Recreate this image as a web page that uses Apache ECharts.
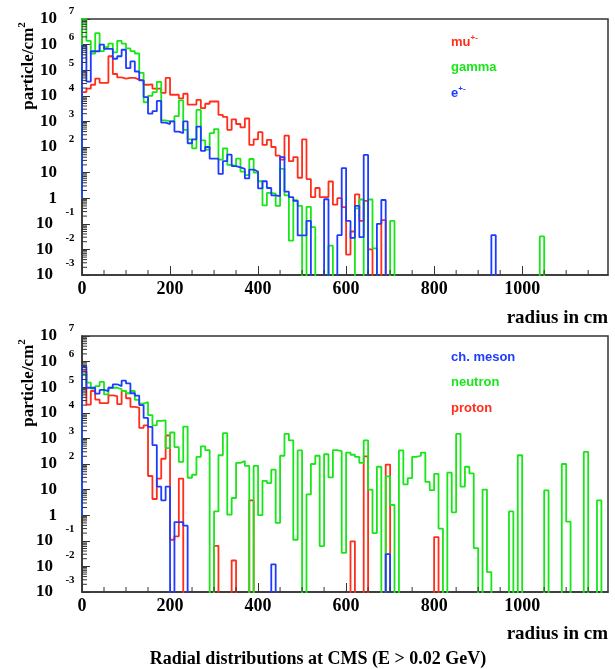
<!DOCTYPE html>
<html>
<head>
<meta charset="utf-8">
<script src="https://cdn.jsdelivr.net/npm/echarts@6/dist/echarts.min.js"></script>
<style>
  html, body { margin: 0; padding: 0; background: #ffffff; }
  #chart { width: 615px; height: 669px; }
</style>
</head>
<body>
<div id="chart"></div>
<script>
// Radial particle fluence at CMS, 10 cm radial bins, particle/cm^2 per bin.
const binWidth = 10;
const nBins = 120;
const radiusMax = 1195;

// Upper panel: muons, photons, electrons
const muTop = [
  1.4e4, 1.9e4, 2.7e4, 4.7e4, 3.2e4, 3.2e4, 3.5e5, 7.1e4, 5.2e4, 4.7e4,
  5.0e4, 5.0e4, 4.3e4, 4.0e4, 2.7e4, 2.8e4, 1.9e4, 1.9e4, 1.3e4, 5.0e4,
  1.1e4, 1.1e4, 7.9e3, 1.2e4, 4.5e3, 4.5e3, 6.9e3, 3.3e3, 4.9e3, 6.0e3,
  6.0e3, 1.8e3, 1.5e3, 4.7e2, 1.2e3, 7.9e2, 5.8e2, 1.3e3, 1.2e2, 2.0e2,
  3.8e2, 1.2e2, 1.9e2, 1.0e2, 46, 32, 2.8e2, 28, 40, 6.3,
  2.0e2, 5.6, 1.1, 2.5, 1.1, 1.1, 4.5, 0.56, 1.0, 0.45,
  0.0063, 0.05, 1.4, 0.13, 0.79, 0.01, 0, 0, 0.14
];
const gammaTop = [
  1.0e7, 1.4e6, 4.5e5, 2.8e6, 5.6e5, 7.9e5, 1.1e6, 5.0e5, 1.4e6, 1.1e6,
  7.1e5, 5.6e5, 4.5e5, 7.9e4, 5.6e3, 1.0e4, 1.4e4, 3.5e4, 1.1e3, 1.0e3,
  1.0e3, 1.6e3, 6.6e3, 4.7e2, 2.0e2, 89, 2.8e3, 1.8e2, 79, 3.5e2,
  5.0e2, 32, 89, 20, 18, 35, 11, 7.9, 34, 10,
  4.6, 0.52, 1.6, 1.5, 0.5, 14, 1.3, 0.022, 0.83, 0.5,
  0, 0.46, 0.074, 0, 0, 0, 0.014, 0, 0, 0,
  0, 0, 0.4, 0.89, 0, 0.89, 0.011, 0, 0, 0,
  0.13, 0, 0, 0, 0, 0, 0, 0, 0, 0,
  0, 0, 0, 0, 0, 0, 0, 0, 0, 0,
  0, 0, 0, 0, 0, 0, 0, 0, 0, 0,
  0, 0, 0, 0, 0.032
];
const eTop = [
  9.0e5, 3.6e4, 5.5e5, 5.5e5, 1.0e6, 6.8e5, 6.8e5, 2.8e5, 3.5e5, 6.3e5,
  1.2e5, 2.2e5, 8.9e4, 4.0e4, 8.9e3, 2.0e3, 2.5e3, 6.3e3, 8.9e2, 7.9e2,
  1.0e3, 4.0e2, 3.5e2, 1.0e3, 1.4e2, 2.0e2, 6.3e2, 71, 1.0e2, 35,
  35, 8.9, 28, 50, 18, 16, 14, 5.9, 13, 11,
  2.4, 4.6, 2.5, 1.3, 1.2, 40, 1.8, 1.1, 0.79, 0.035,
  0.035, 0.13, 0, 0, 0, 0.91, 0, 0, 0.036, 15,
  0.13, 0.028, 0.5, 0.03, 49, 0, 0, 0.1, 0.85, 0,
  0, 0, 0, 0, 0, 0, 0, 0, 0, 0,
  0, 0, 0, 0, 0, 0, 0, 0, 0, 0,
  0, 0, 0, 0.036
];

// Lower panel: charged mesons, neutrons, protons
const mesonBottom = [
  6.3e5, 9.5e4, 9.5e4, 5.6e4, 7.8e4, 7.1e4, 9.5e4, 1.3e5, 1.1e5, 1.8e5,
  1.4e5, 5.8e4, 4.7e4, 2.0e4, 6.3e3, 2.8e3, 5.5e2, 13, 3.8, 13,
  0, 0.54, 0.54, 0.39, 0, 0, 0, 0, 0, 0,
  0, 0, 0, 0, 0, 0, 0, 0, 0, 0,
  0, 0, 0, 0.012, 0, 0, 0, 0, 0, 0,
  0, 0, 0, 0, 0, 0, 0, 0, 0, 0,
  0, 0, 0, 0, 0, 0, 0, 0, 0, 0.03
];
const neutronBottom = [
  3.2e5, 1.5e5, 8.9e4, 1.1e5, 1.6e5, 5.2e4, 9.5e4, 9.5e4, 8.5e4, 7.1e4,
  5.8e4, 7.1e4, 3.2e4, 2.3e4, 2.6e4, 8.1e3, 3.2e3, 4.8e3, 5.1e3, 4.2e2,
  1.7e3, 4.6e2, 1.2e2, 2.9e3, 29, 38, 1.9e2, 4.9e2, 3.5e2, 0,
  1.4, 2.2e2, 1.6e3, 1.05, 4.7, 1.1e2, 1.3e2, 85, 0, 85,
  1.0, 22, 18, 60, 0.5, 2.1e2, 1.5e3, 8.3e2, 0.11, 3.4e2,
  0, 6.5, 1.0e2, 2.1e2, 0.062, 2.4e2, 30, 3.5e2, 3.2e2, 0.034,
  2.8e2, 2.3e2, 1.9e2, 1.1e2, 8.3e2, 10, 0.2, 78, 0, 33,
  2.5, 0, 3.4e2, 16, 28, 1.9e2, 2.1e2, 2.8e2, 20, 9.5,
  41, 0.3, 0, 46, 1.3, 1.5e3, 13, 78, 43, 0.052,
  0, 10, 0.006, 0, 0, 0, 0, 1.4, 0, 2.2e2,
  0, 0, 0, 0, 0, 9.3, 0, 0, 0, 1.0e2,
  0.56, 0, 0, 0, 3.0e2, 0, 0, 3.8, 0, 0
];
const protonBottom = [
  4.2e5, 2.1e4, 7.1e4, 3.3e4, 2.4e4, 2.4e4, 4.8e4, 4.5e4, 2.2e4, 7.1e4,
  3.7e4, 1.7e4, 1.6e4, 2.6e3, 3.2e3, 34, 4.3, 27, 1.6e2, 1.3e3,
  0.11, 0.15, 27, 0, 0, 0, 0, 0, 0, 0,
  0.063, 0, 0, 0, 0.017, 0, 0, 0, 3.8, 0,
  0, 0, 0, 0, 0, 0, 0, 0, 0, 0,
  0, 0, 0, 0, 0, 0, 0, 0, 0, 0,
  0, 0.095, 0, 0, 2.0e2, 0, 0, 0, 0, 95,
  0, 0, 0, 0, 0, 0, 0, 0, 0, 0,
  0.14
];

// Axis ranges (log y axis in decades)
const yMin = 1e-3;
const yMax = 1e7;
const xLabelStep = 200;

const RED = '#ff2d19';
const GREEN = '#19e619';
const BLUE = '#1e3cff';
const FRAME = '#333333';
const SERIF = "'Liberation Serif', 'Times New Roman', serif";
const SANS = "'Liberation Sans', Arial, sans-serif";

// Outline starts from 1 at r = 0; empty bins fall below the frame and are clipped.
const outlineBase = 1;
const emptyLevel = Math.pow(10, -3.3);

function histPoints(vals) {
  const pts = [[0, outlineBase]];
  for (let i = 0; i < nBins; i++) {
    const v = vals[i] || 0;
    pts.push([i * binWidth, v > 0 ? v : emptyLevel]);
  }
  const last = vals[nBins - 1] || 0;
  pts.push([nBins * binWidth, last > 0 ? last : emptyLevel]);
  return pts;
}

function histSeries(name, vals, color, gi, z) {
  return {
    name: name, type: 'line', xAxisIndex: gi, yAxisIndex: gi,
    step: 'end', symbol: 'none', showSymbol: false, clip: true,
    data: histPoints(vals), z: z, animation: false,
    lineStyle: { color: color, width: 1.8 }, itemStyle: { color: color }
  };
}

// Minor tick marks: log 2..9 per decade on y, every 50 cm on x
const minorTicks = [];
for (let k = -3; k < 7; k++) {
  for (let m = 2; m <= 9; m++) minorTicks.push([0, m * Math.pow(10, k), 0]);
}
for (let r = 50; r < radiusMax; r += 50) {
  if (r % xLabelStep !== 0) minorTicks.push([r, yMin, 1]);
}

function minorTickSeries(gi) {
  return {
    type: 'custom', xAxisIndex: gi, yAxisIndex: gi, silent: true, clip: false,
    animation: false, z: 5, data: minorTicks,
    renderItem: function (params, api) {
      const p = api.coord([api.value(0), api.value(1)]);
      const vertical = api.value(2) === 1;
      return {
        type: 'line',
        shape: vertical
          ? { x1: p[0], y1: p[1], x2: p[0], y2: p[1] - 5 }
          : { x1: p[0], y1: p[1], x2: p[0] + 5, y2: p[1] },
        style: { stroke: FRAME, lineWidth: 1 }
      };
    }
  };
}

function yLabel(v) {
  const e = Math.round(Math.log10(v));
  if (e === 0) return '{b|1}{s| }{p| }';
  if (e === 1) return '{b|10}{s| }{p| }';
  if (e > 1) return '{b|10}{s| }{p|' + e + '}';
  return '{bn|10}{sn| }{n|' + e + '}';
}

const yRich = {
  b: { fontFamily: SERIF, fontWeight: 'bold', fontSize: 17, color: '#000', lineHeight: 26 },
  bn: { fontFamily: SERIF, fontWeight: 'bold', fontSize: 17, color: '#000', lineHeight: 34 },
  s: { width: 9 },
  sn: { width: 10 },
  p: { fontFamily: SERIF, fontWeight: 'bold', fontSize: 11, color: '#000', width: 11,
       align: 'left', verticalAlign: 'top', lineHeight: 12 },
  n: { fontFamily: SERIF, fontWeight: 'bold', fontSize: 11, color: '#000', width: 14,
       align: 'left', verticalAlign: 'top', lineHeight: 12 }
};

function xAxisFor(gi) {
  return {
    type: 'value', gridIndex: gi, min: 0, max: radiusMax, interval: xLabelStep,
    axisLine: { show: true, lineStyle: { color: FRAME, width: 1.5 } },
    axisTick: { show: true, inside: true, length: 9, lineStyle: { color: FRAME, width: 1 } },
    splitLine: { show: false },
    axisLabel: {
      fontFamily: SERIF, fontWeight: 'bold', fontSize: 18, color: '#000', margin: 5,
      showMaxLabel: false, formatter: function (v) { return String(v); }
    }
  };
}

function yAxisFor(gi) {
  return {
    type: 'log', logBase: 10, gridIndex: gi, min: yMin, max: yMax, interval: 1,
    axisLine: { show: true, lineStyle: { color: FRAME, width: 1.5 } },
    axisTick: { show: true, inside: true, length: 8, lineStyle: { color: FRAME, width: 1 } },
    splitLine: { show: false },
    axisLabel: { margin: 5, formatter: yLabel, rich: yRich }
  };
}

const legendLabels = {
  'mu': '{r|mu}{rs|+-}',
  'gamma': '{g|gamma}',
  'e': '{bl|e}{bls|+-}',
  'ch. meson': '{bl|ch. meson}',
  'neutron': '{g|neutron}',
  'proton': '{r|proton}'
};
const legendRich = {
  r: { color: RED, fontFamily: SANS, fontWeight: 'bold', fontSize: 13, lineHeight: 16 },
  g: { color: GREEN, fontFamily: SANS, fontWeight: 'bold', fontSize: 13, lineHeight: 16 },
  bl: { color: BLUE, fontFamily: SANS, fontWeight: 'bold', fontSize: 13, lineHeight: 16 },
  rs: { color: RED, fontFamily: SANS, fontWeight: 'bold', fontSize: 8, verticalAlign: 'top', lineHeight: 9 },
  bls: { color: BLUE, fontFamily: SANS, fontWeight: 'bold', fontSize: 8, verticalAlign: 'top', lineHeight: 9 }
};

function legendFor(names, top) {
  return {
    data: names, orient: 'vertical', left: 446, top: top, padding: 0, icon: 'none',
    itemWidth: 0, itemHeight: 16, itemGap: 11, selectedMode: false,
    formatter: function (n) { return legendLabels[n]; },
    textStyle: { rich: legendRich }
  };
}

const titleRich = {
  a: { fontFamily: SERIF, fontWeight: 'bold', fontSize: 17, fill: '#000', lineHeight: 24 },
  s: { fontFamily: SERIF, fontWeight: 'bold', fontSize: 11, fill: '#000', verticalAlign: 'top', lineHeight: 12 }
};

const option = {
  backgroundColor: '#ffffff',
  animation: false,
  grid: [
    { left: 82, top: 19, width: 526, height: 256, show: true, borderColor: FRAME, borderWidth: 1.5 },
    { left: 82, top: 336, width: 526, height: 256, show: true, borderColor: FRAME, borderWidth: 1.5 }
  ],
  xAxis: [xAxisFor(0), xAxisFor(1)],
  yAxis: [yAxisFor(0), yAxisFor(1)],
  legend: [
    legendFor(['mu', 'gamma', 'e'], 34),
    legendFor(['ch. meson', 'neutron', 'proton'], 349)
  ],
  series: [
    histSeries('mu', muTop, RED, 0, 2),
    histSeries('gamma', gammaTop, GREEN, 0, 3),
    histSeries('e', eTop, BLUE, 0, 4),
    histSeries('proton', protonBottom, RED, 1, 2),
    histSeries('neutron', neutronBottom, GREEN, 1, 3),
    histSeries('ch. meson', mesonBottom, BLUE, 1, 4),
    minorTickSeries(0),
    minorTickSeries(1)
  ],
  graphic: [
    { type: 'text', x: 29, y: 66, rotation: Math.PI / 2,
      style: { text: '{a|particle/cm}{s|2}', rich: titleRich, align: 'center', verticalAlign: 'middle' } },
    { type: 'text', x: 29, y: 383, rotation: Math.PI / 2,
      style: { text: '{a|particle/cm}{s|2}', rich: titleRich, align: 'center', verticalAlign: 'middle' } },
    { type: 'text', x: 608, y: 318,
      style: { text: 'radius in cm', fontFamily: SERIF, fontWeight: 'bold', fontSize: 19, fill: '#000',
               align: 'right', verticalAlign: 'middle' } },
    { type: 'text', x: 608, y: 634,
      style: { text: 'radius in cm', fontFamily: SERIF, fontWeight: 'bold', fontSize: 19, fill: '#000',
               align: 'right', verticalAlign: 'middle' } },
    { type: 'text', x: 318, y: 659,
      style: { text: 'Radial distributions at CMS (E > 0.02 GeV)', fontFamily: SERIF, fontWeight: 'bold',
               fontSize: 18, fill: '#000', align: 'center', verticalAlign: 'middle' } }
  ]
};

const chart = echarts.init(document.getElementById('chart'), null, { renderer: 'canvas' });
chart.setOption(option);
</script>
</body>
</html>
